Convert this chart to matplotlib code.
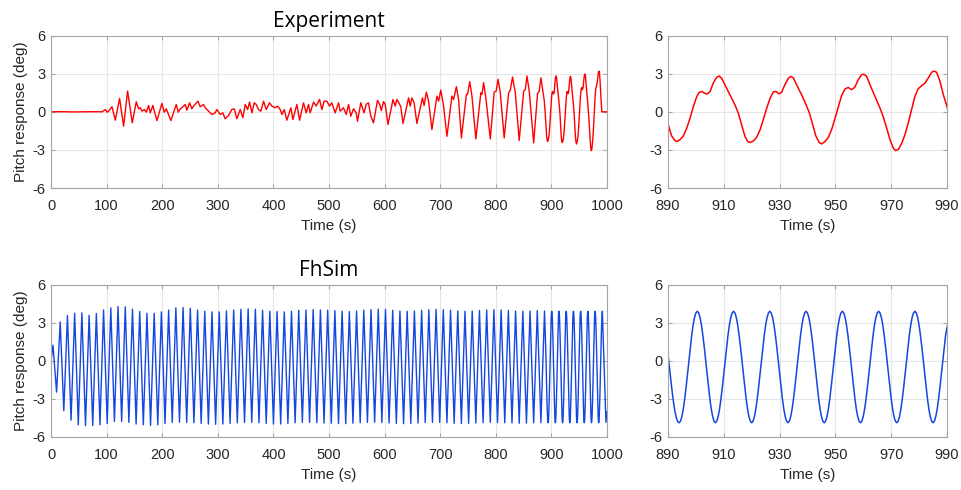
import numpy as np
import matplotlib
matplotlib.use("Agg")
import matplotlib.pyplot as plt

plt.rcParams['font.family'] = ['Liberation Sans', 'DejaVu Sans']
plt.rcParams['axes.unicode_minus'] = False

# ---------------------------------------------------------------
# Experiment pitch response (deg)
exp_t = [0, 20, 40, 60, 80, 92, 97.6, 101, 103.6, 109.6, 115.6, 123.3, 130.5, 137.7,
         146.1, 153.3, 157.5, 160.5, 163.5, 167.7, 171.3, 175.5, 178.5, 183.2, 190.4,
         199.4, 203.6, 207.2, 215.6, 225.2, 228.8, 232.4, 235.4, 241.3, 244.3, 249.1,
         253.3, 256.3, 264.1, 268.3, 274.3, 277.3, 283.3, 289.3, 295.3, 298.3, 304.3,
         309.0, 313.2, 319.2, 325.2, 329.4, 334.2, 340.2, 345, 349.3, 353.5, 357, 361.3,
         365.5, 369, 373.2, 377.4, 382.2, 387, 393, 397.2, 403.2, 407.4, 412.2, 415.2,
         419.4, 424.2, 431.4, 435, 442.1, 447, 454.1, 458.9, 463.1, 466.1, 472.1, 476.9,
         482.9, 487.1, 491.2, 496.1, 500.8, 505, 511, 517, 520, 526, 530.8, 535, 539.2,
         544, 548.8, 551.2, 557.1, 563.1, 566.7, 570.9, 575.1, 579.9, 587.1, 591, 594,
         598, 601, 606, 615, 619, 622, 625, 629, 633, 643, 646, 649, 653, 658, 668, 671,
         675, 679, 685, 694, 697, 701, 706, 712, 721, 724, 729, 733, 738, 747, 749, 753,
         757, 764, 773, 775, 778, 782, 790, 797, 800.5, 804, 808, 815, 823, 826, 830,
         835, 842, 850, 853, 856, 860, 868, 875, 878, 881, 887, 888.5,
         890, 891.3, 892.5, 893.1, 894.3, 895.5, 896.7, 897.9, 899.1, 900.3, 901.2,
         902.1, 903, 904.1, 905.1, 906.2, 907.4, 908.3, 909.2, 910.4, 912.2, 914, 915.2,
         916.4, 917.6, 918.6, 919.4, 920.6, 921.8, 923, 924.2, 925.4, 926.6, 927.8,
         928.7, 929.8, 930.7, 931.9, 933.1, 934, 934.9, 936.1, 937.9, 939.5, 940.7,
         941.9, 943, 944.2, 945.1, 946.3, 947.5, 948.7, 949.9, 951.1, 952.2, 953.4,
         954.6, 955.8, 957, 958.2, 959.4, 960.2, 961.2, 962.4, 964.2, 966, 967.2, 968.4,
         969.6, 970.8, 971.6, 972.6, 973.8, 974.9, 976.1, 977.3, 978.5, 979.7, 980.9,
         982.1, 983.3, 984.5, 985.3, 986.3, 987.5, 988.7, 990, 990.5, 1000]
exp_v = [0.0, 0.01, -0.01, 0.0, 0.01, 0.0, 0.18, -0.03, 0.05, 0.4, -0.66, 1.06, -1.13, 1.64,
         -0.87, 0.79, 0.24, 0.32, 0.05, 0.18, -0.03, 0.5, -0.08, 0.5, -0.69,
         0.66, -0.03, 0.24, -0.69, 0.58, -0.03, 0.24, 0.32, 0.58, 0.13, 0.71,
         0.24, 0.45, 0.84, 0.4, 0.58, 0.32, 0.05, -0.21, -0.08, 0.18, -0.21,
         -0.08, -0.55, -0.29, 0.18, 0.24, -0.55, 0.18, -0.47, 0.58, 0.18, 0.77, -0.08,
         0.71, 0.58, 0.18, 0.05, 0.84, 0.18, 0.71, 0.45, 0.32, 0.45, 0.18, -0.21,
         0.18, -0.66, 0.32, -0.61, 0.58, -0.66, 0.71, -0.08, 0.58, -0.08, 0.77, 0.45,
         0.98, 0.18, 0.84, 0.84, 0.45, 0.71, -0.08, 0.71, 0.05, 0.32, -0.21, 0.58, -0.34,
         0.24, -0.08, -0.74, 0.71, -0.08, 0.58, 0.71, -0.34, -0.87, 0.9, 0.6, 0.1,
         0.8, 0.6, -1.0, 0.97, 0.45, 0.97, 0.76, 0.4, -0.92, 1.1, 0.45, 1.1, 0.71, -0.92, 1.1, 0.5,
         1.55, 0.84, -1.4, 1.24, 0.84, 1.71, 0.45, -1.93, 1.24, 0.97, 1.98, 0.97, -2.06, 1.37, 1.37, 2.37,
         1.24, -2.14, 1.5, 1.37, 2.3, 1.1, -2.14, 1.55, 1.63, 2.56, 1.5, -2.06, 1.5, 1.71, 2.74,
         1.5, -2.26, 1.63, 1.76, 2.82, 1.63, -2.45, 1.45, 1.63, 2.68, 0.9, 0.05,
         -0.95, -1.9, -2.26, -2.34, -2.2, -1.9, -1.3, -0.5, 0.42, 1.2, 1.53,
         1.6, 1.47, 1.4, 1.6, 2.26, 2.7, 2.82, 2.66, 2.13, 1.34, 0.55, -0.1,
         -1.03, -1.95, -2.34, -2.42, -2.29, -2.0, -1.42, -0.58, 0.29, 1.08, 1.58,
         1.6, 1.42, 1.53, 2.13, 2.63, 2.79, 2.68, 2.13, 1.34, 0.55, -0.1,
         -1.03, -1.9, -2.42, -2.53, -2.34, -2.0, -1.37, -0.5, 0.42, 1.26, 1.79,
         1.92, 1.74, 1.95, 2.53, 2.92, 2.97, 2.79, 2.13, 1.21, 0.29, -0.42, -1.29,
         -2.21, -2.87, -3.05, -2.95, -2.47, -1.82, -0.89, 0.16, 1.21, 1.82, 2.05,
         2.26, 2.66, 3.11, 3.21, 3.11, 2.39, 1.34, 0.42, 0.0, 0.0]

# FhSim: crest and trough values of each swing, 0-888 s (every 6.5 s from 3.5 s)
fh_peaks = [1.23, 3.05, 3.56, 3.74, 3.77, 3.58, 3.72, 4.0, 4.17, 4.27, 4.25, 4.06, 3.88,
            3.74, 3.74, 3.85, 4.0, 4.17, 4.19, 4.14, 4.0, 3.9, 3.85, 3.85, 3.93, 4.0,
            4.06, 4.09, 4.06, 3.98, 3.9, 3.88, 3.85, 3.9, 3.98, 4.0, 4.03, 4.0, 3.98,
            3.95, 3.9, 3.88, 3.92, 3.98, 4.03, 4.06, 4.04, 3.98, 3.92, 3.9, 3.92, 3.97,
            4.02, 4.05, 4.03, 3.98, 3.93, 3.9, 3.92, 3.96, 4.0, 4.02, 4.0, 3.96, 3.92,
            3.9, 3.92, 3.95, 3.92]
fh_troughs = [-2.47, -3.93, -4.67, -5.04, -5.1, -5.1, -5.04, -4.93, -4.78, -4.78, -4.85,
              -4.98, -5.04, -5.09, -5.04, -4.93, -4.85, -4.83, -4.85, -4.88, -4.93, -4.98,
              -5.0, -4.98, -4.93, -4.88, -4.85, -4.85, -4.88, -4.93, -4.98, -4.98, -4.93,
              -4.88, -4.85, -4.85, -4.88, -4.9, -4.92, -4.95, -4.95, -4.92, -4.88, -4.85,
              -4.84, -4.86, -4.9, -4.93, -4.95, -4.93, -4.9, -4.87, -4.85, -4.85, -4.88,
              -4.92, -4.94, -4.93, -4.9, -4.87, -4.85, -4.86, -4.88, -4.9, -4.92, -4.9,
              -4.88, -4.87]
# FhSim detail 890-990 s, every 0.5 s
fh_detail = [0.5, -0.5, -1.5, -2.45, -3.3, -4.0, -4.5, -4.8, -4.88, -4.75, -4.38, -3.78,
             -2.98, -2.05, -1.02, 0.04, 1.07, 2.0, 2.8, 3.4, 3.77,
             3.9, 3.77, 3.4, 2.8, 2.0, 1.07, 0.04, -1.02, -2.05, -2.98, -3.78, -4.38, -4.75,
             -4.88, -4.75, -4.38, -3.78, -2.98, -2.05, -1.02, 0.04, 1.07, 2.0, 2.8, 3.4, 3.77,
             3.9, 3.77, 3.4, 2.8, 2.0, 1.07, 0.04, -1.02, -2.05, -2.98, -3.78, -4.38, -4.75,
             -4.88, -4.75, -4.38, -3.78, -2.98, -2.05, -1.02, 0.04, 1.07, 2.0, 2.8, 3.4, 3.77,
             3.9, 3.77, 3.4, 2.8, 2.0, 1.07, 0.04, -1.02, -2.05, -2.98, -3.78, -4.38, -4.75,
             -4.88, -4.75, -4.38, -3.78, -2.98, -2.05, -1.02, 0.04, 1.07, 2.0, 2.8, 3.4, 3.77,
             3.9, 3.77, 3.4, 2.8, 2.0, 1.07, 0.04, -1.02, -2.05, -2.98, -3.78, -4.38, -4.75,
             -4.88, -4.75, -4.38, -3.78, -2.98, -2.05, -1.02, 0.04, 1.07, 2.0, 2.8, 3.4, 3.77,
             3.9, 3.77, 3.4, 2.8, 2.0, 1.07, 0.04, -1.02, -2.05, -2.98, -3.78, -4.38, -4.75,
             -4.88, -4.75, -4.38, -3.78, -2.98, -2.05, -1.02, 0.04, 1.07, 2.0, 2.8, 3.4, 3.77,
             3.9, 3.77, 3.4, 2.8, 2.0, 1.07, 0.04, -1.02, -2.05, -2.98, -3.78, -4.38, -4.75,
             -4.88, -4.75, -4.38, -3.78, -2.98, -2.05, -1.02, 0.04, 1.07, 2.0, 2.8, 3.4, 3.77,
             3.9, 3.77, 3.4, 2.8, 2.0, 1.07, 0.04, -1.02, -2.05, -2.98, -3.78, -4.38, -4.75,
             -4.88, -4.75, -4.38, -3.78, -2.98, -2.05, -1.02, 0.04, 1.07, 2.0, 2.6]
fh_tail_t = [991.5, 998, 1000]
fh_tail_v = [3.9, -4.85, -4.0]
#-----------------------------------------------

fh_ext_t = np.arange(3.5, 888, 6.5)
fh_ext_v = np.empty(len(fh_ext_t))
fh_ext_v[0::2] = fh_peaks
fh_ext_v[1::2] = fh_troughs
fh_t = np.concatenate([[0], fh_ext_t, np.arange(890, 990.25, 0.5), fh_tail_t])
fh_v = np.concatenate([[0], fh_ext_v, fh_detail, fh_tail_v])

txt = '#262626'
fig = plt.figure(figsize=(9.61, 4.90), dpi=100)

def style(ax, xlim, xticks):
    ax.set_xlim(xlim)
    ax.set_ylim(-6, 6)
    ax.set_xticks(xticks)
    ax.set_yticks([-6, -3, 0, 3, 6])
    ax.grid(True, color='#e6e6e6', linewidth=0.8)
    ax.set_axisbelow(True)
    for s in ax.spines.values():
        s.set_color('#a6a6a6')
        s.set_linewidth(0.8)
    ax.tick_params(direction='in', top=True, right=True, length=3, width=0.8,
                   color='#a6a6a6', labelsize=10.5, labelcolor=txt)
    ax.tick_params(axis='x', pad=8)
    ax.tick_params(axis='y', pad=4)
    ax.set_xlabel('Time (s)', fontsize=11, color=txt, labelpad=4)

rows = [(0.6163, exp_t, exp_v, '#ff0000', 'Experiment'),
        (0.1082, fh_t, fh_v, '#1446e0', 'FhSim')]
for bottom, t, v, col, title in rows:
    ax1 = fig.add_axes([0.0531, bottom, 0.5786, 0.311])
    ax1.plot(t, v, color=col, linewidth=1.0)
    style(ax1, (0, 1000), range(0, 1001, 100))
    ax1.set_ylabel('Pitch response (deg)', fontsize=11, color=txt, labelpad=3)
    ax1.set_title(title, fontsize=15, family=['Open Sans', 'DejaVu Sans'], color='black', pad=6)

    ax2 = fig.add_axes([0.6951, bottom, 0.2903, 0.311])
    ax2.plot(t, v, color=col, linewidth=1.1)
    style(ax2, (890, 990), range(890, 991, 20))

fig.savefig('out.png', dpi=100)
